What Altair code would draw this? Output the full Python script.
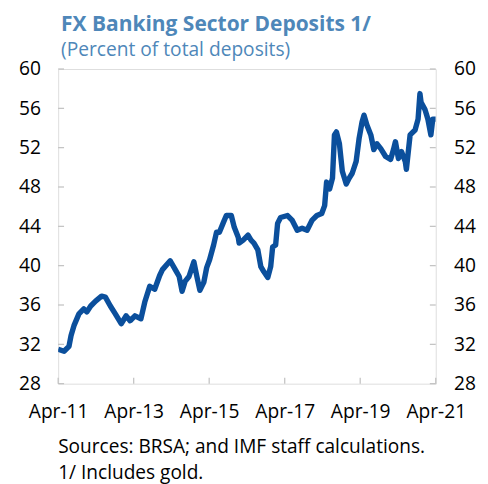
import altair as alt
import pandas as pd

dates = [
    "2011-04-01", "2011-05-28", "2011-07-15", "2011-08-04", "2011-09-01", "2011-10-19",
    "2011-12-05", "2012-01-03", "2012-02-10", "2012-03-28", "2012-05-25", "2012-07-01",
    "2012-08-18", "2012-10-05", "2012-12-01", "2013-01-18", "2013-02-25", "2013-04-13",
    "2013-06-10", "2013-07-17", "2013-09-03", "2013-10-21", "2013-12-08", "2014-01-04",
    "2014-03-20", "2014-05-08", "2014-06-15", "2014-07-13", "2014-08-11", "2014-09-18",
    "2014-11-04", "2014-12-03", "2015-01-01", "2015-02-08", "2015-03-08", "2015-04-05",
    "2015-05-14", "2015-06-11", "2015-07-09", "2015-08-17", "2015-09-14", "2015-11-01",
    "2015-11-30", "2016-01-07", "2016-01-16", "2016-02-24", "2016-04-11", "2016-05-10",
    "2016-06-07", "2016-07-15", "2016-08-13", "2016-09-10", "2016-10-19", "2016-11-16",
    "2016-12-05", "2017-01-03", "2017-01-22", "2017-02-20", "2017-04-28", "2017-06-13",
    "2017-07-31", "2017-09-16", "2017-11-03", "2017-12-20", "2018-02-06", "2018-03-25",
    "2018-04-22", "2018-05-11", "2018-06-09", "2018-07-07", "2018-07-26", "2018-08-14",
    "2018-09-12", "2018-10-10", "2018-11-17", "2018-12-16", "2019-01-14", "2019-02-21",
    "2019-03-21", "2019-04-19", "2019-05-08", "2019-06-05", "2019-07-13", "2019-08-11",
    "2019-09-09", "2019-10-17", "2019-12-03", "2020-01-20", "2020-02-17", "2020-03-07",
    "2020-04-05", "2020-05-05", "2020-06-10", "2020-06-21", "2020-07-27", "2020-09-13",
    "2020-10-12", "2020-10-30", "2020-11-10", "2020-12-17", "2021-01-15", "2021-02-13",
    "2021-03-03", "2021-04-01",
]
values = [
    31.5, 31.3, 31.8, 32.9, 33.9, 35.1,
    35.6, 35.3, 35.9, 36.4, 36.9, 36.8,
    35.9, 35.1, 34.1, 34.9, 34.4, 34.9,
    34.6, 36.3, 37.9, 37.6, 39.0, 39.6,
    40.5, 39.6, 38.9, 37.4, 38.4, 38.9,
    40.4, 38.9, 37.5, 38.3, 39.8, 40.6,
    42.1, 43.4, 43.4, 44.4, 45.1, 45.1,
    43.9, 42.9, 42.3, 42.6, 43.1, 42.6,
    42.3, 41.6, 39.9, 39.4, 38.8, 39.9,
    41.9, 42.1, 44.3, 44.9, 45.1, 44.6,
    43.6, 43.8, 43.6, 44.6, 45.1, 45.3,
    46.1, 48.5, 47.8, 48.9, 53.3, 53.6,
    52.4, 49.6, 48.3, 48.9, 49.4, 50.6,
    52.9, 54.6, 55.3, 54.3, 53.3, 51.8,
    52.4, 51.9, 51.1, 50.8, 51.8, 52.6,
    50.9, 51.6, 50.6, 49.8, 53.3, 53.8,
    54.9, 57.5, 56.6, 55.9, 54.9, 53.3,
    54.9, 54.9,
]
y_ticks = [28, 32, 36, 40, 44, 48, 52, 56, 60]
x_ticks = ["2011-04-01", "2013-04-01", "2015-04-01", "2017-04-01", "2019-04-01", "2021-04-01"]
title_text = "FX Banking Sector Deposits 1/"
subtitle_text = "(Percent of total deposits)"
footnotes = ["Sources: BRSA; and IMF staff calculations.", "1/ Includes gold."]

df = pd.DataFrame({"date": dates, "value": values})
ytick_df = pd.DataFrame({"v": y_ticks})
xtick_df = pd.DataFrame({"d": x_ticks})
foot_df = pd.DataFrame({"t": footnotes, "i": list(range(len(footnotes)))})

W, H = 384, 320
FONT = "Open Sans"
LINE = "#0B4F9C"
AX = "#BFBFBF"
LBL = 19.5

x_dt = [alt.DateTime(year=int(d[:4]), month=int(d[5:7]), date=1, utc=True) for d in x_ticks]
xscale = alt.Scale(type="utc", domain=[x_dt[0], x_dt[-1]])
yscale = alt.Scale(domain=[28, 60], nice=False, zero=False)

line_left = alt.Chart(df).mark_line(color=LINE, strokeWidth=5.5, strokeJoin="round", clip=True).encode(
    x=alt.X("date:T", scale=xscale,
            axis=alt.Axis(values=x_dt, format="%b-%y", title=None, ticks=False, domain=False,
                          grid=False, labelFontSize=LBL, labelFont=FONT, labelColor="#000000",
                          labelPadding=19, labelFlush=False)),
    y=alt.Y("value:Q", scale=yscale,
            axis=alt.Axis(values=y_ticks, orient="left", title=None, ticks=False, domain=False,
                          grid=False, labelFontSize=LBL, labelFont=FONT, labelColor="#000000",
                          labelPadding=18)),
)

line_right = alt.Chart(df).mark_line(strokeOpacity=0).encode(
    x=alt.X("date:T", scale=xscale),
    y=alt.Y("value:Q", scale=yscale,
            axis=alt.Axis(values=y_ticks, orient="right", title=None, ticks=False, domain=False,
                          grid=False, labelFontSize=LBL, labelFont=FONT, labelColor="#000000",
                          labelPadding=18)),
)

ytick_left = alt.Chart(ytick_df).mark_rule(color=AX, strokeWidth=1.2).encode(
    y=alt.Y("v:Q", scale=yscale, axis=None), x=alt.value(0), x2=alt.value(6))
ytick_right = alt.Chart(ytick_df).mark_rule(color=AX, strokeWidth=1.2).encode(
    y=alt.Y("v:Q", scale=yscale, axis=None), x=alt.value(W - 6), x2=alt.value(W))
xtick = alt.Chart(xtick_df).mark_rule(color=AX, strokeWidth=1.2).encode(
    x=alt.X("d:T", scale=xscale), y=alt.value(H - 6), y2=alt.value(H))

foot = alt.Chart(foot_df).mark_text(align="left", baseline="alphabetic", font=FONT,
                                     fontSize=19.4, color="#000000").encode(
    x=alt.value(0),
    y=alt.Y("i:Q", scale=alt.Scale(domain=[0, 1], range=[H + 71, H + 97]), axis=None),
    text="t:N",
)

left_group = alt.layer(ytick_left, xtick, line_left, foot).resolve_scale(y="independent")
chart = alt.layer(left_group, ytick_right, line_right).resolve_scale(y="independent").properties(
    width=W, height=H,
    title=alt.TitleParams(text=title_text, subtitle=subtitle_text, anchor="start", frame="group",
                          font=FONT, fontSize=21.3, fontWeight="bold", color="#4E87B9",
                          subtitleFont=FONT, subtitleFontSize=19.5, subtitleColor="#4E87B9",
                          subtitlePadding=6, offset=0, dx=3),
    autosize=alt.AutoSizeParams(type="none"),
    padding={"left": 51, "top": 58, "right": 45, "bottom": 98},
).configure_view(stroke=AX, strokeWidth=1.5).configure(background="white")

chart.save("out.html", embed_options={"renderer": "svg", "actions": False})
